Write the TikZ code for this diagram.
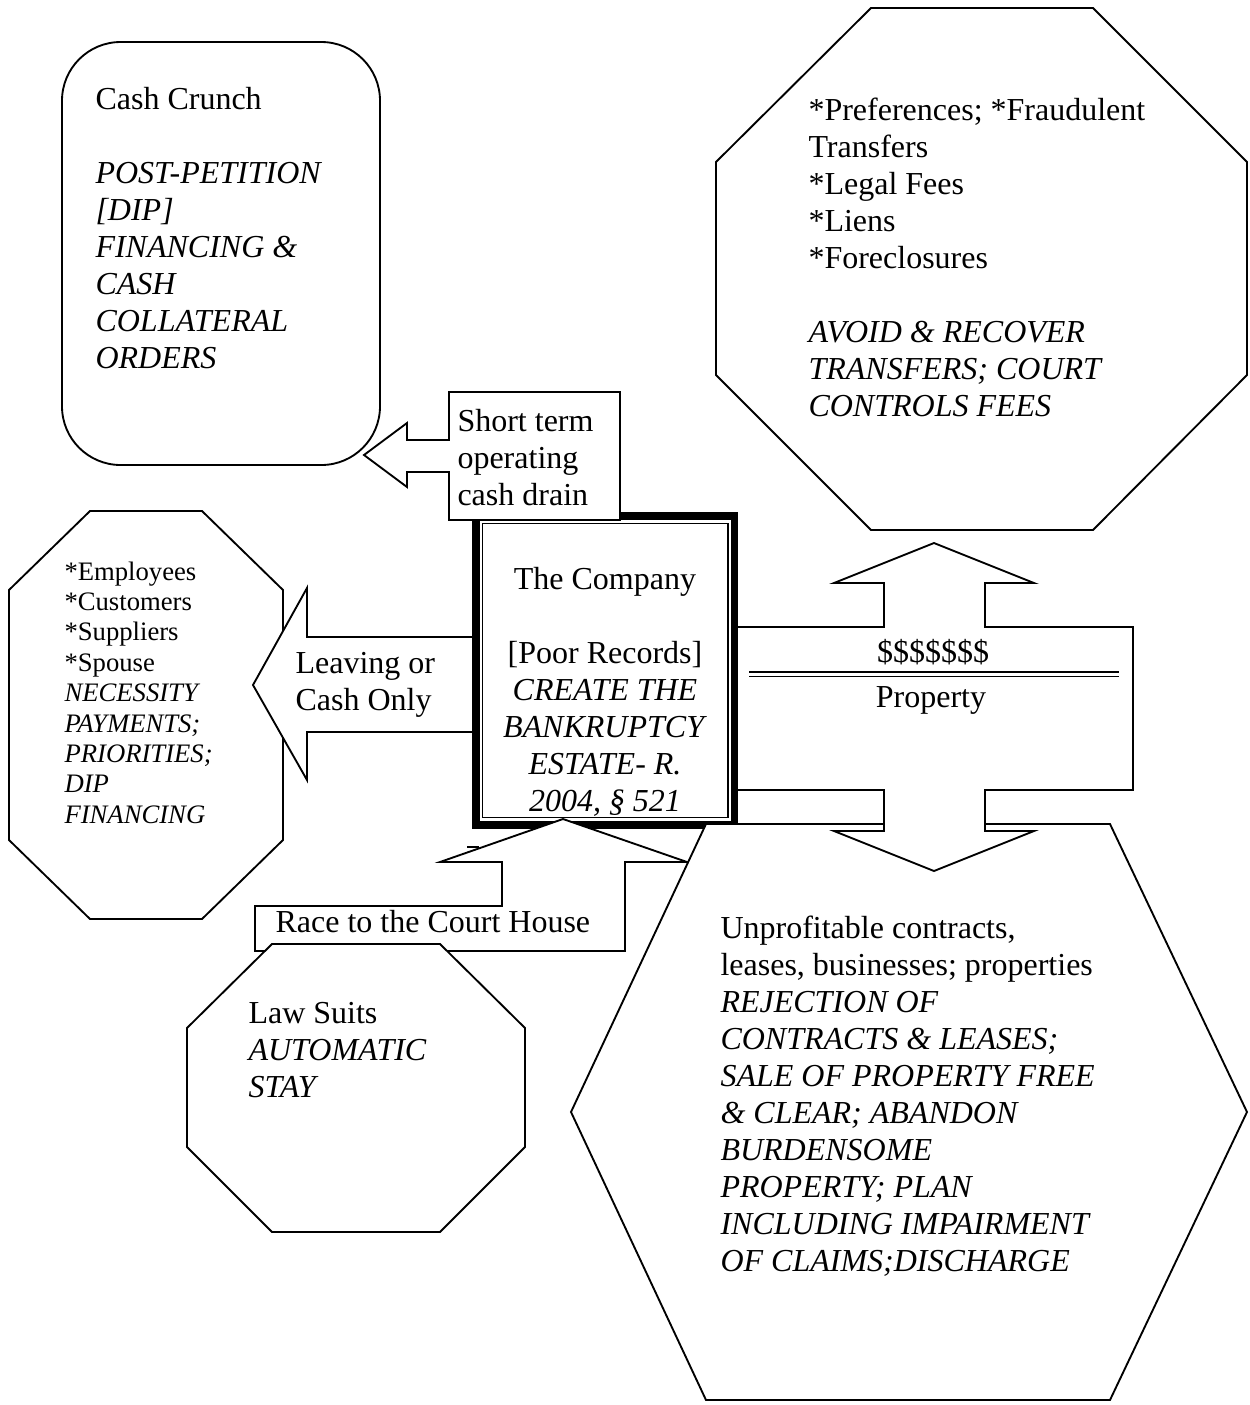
\documentclass[tikz,border=0pt]{standalone}
\usepackage{fontspec}
\setmainfont{Liberation Serif}
\newcommand\mlines[1]{\begin{tabular}[t]{@{}l@{}}#1\end{tabular}}
\newcommand\clines[1]{\begin{tabular}[t]{@{}c@{}}#1\end{tabular}}
\begin{document}
\begin{tikzpicture}[x=0.375pt,y=-0.375pt,
  outl/.style={draw=black, fill=white, line width=0.7pt, line join=miter},
  txtbig/.style={inner sep=0pt, anchor=base west, font=\fontsize{12}{13.9}\selectfont},
  txtsmall/.style={inner sep=0pt, anchor=base west, font=\fontsize{10}{11.4}\selectfont}]
\useasboundingbox (0,0) rectangle (1249,1405);

% Cash crunch rounded box
\draw[outl, rounded corners=22pt] (62,42) rectangle (380,465);

% top-right octagon
\draw[outl] (871,8) -- (1093,8) -- (1247,162) -- (1247,375) -- (1093,530)
  -- (871,530) -- (716,375) -- (716,162) -- cycle;

% left octagon
\draw[outl] (90,511) -- (202,511) -- (283,590) -- (283,840) -- (202,919)
  -- (90,919) -- (9,840) -- (9,590) -- cycle;

% leaving arrow
\draw[outl] (253,685) -- (307,588) -- (307,637) -- (474,637) -- (474,732)
  -- (307,732) -- (307,780) -- cycle;

% company box
\fill[white] (472,512) rectangle (738,829);
\draw[line width=2.8pt] (475.8,516) rectangle (734.5,825);
\draw[line width=0.55pt] (482.5,523.3) rectangle (728,817.7);

% short term callout
\draw[outl] (449,392) -- (620,392) -- (620,520) -- (449,520) -- (449,472)
  -- (407,472) -- (407,487) -- (364,455) -- (407,423) -- (407,440)
  -- (449,440) -- cycle;

% race callout
\draw[outl] (255,906) -- (502,906) -- (502,862) -- (440,862) -- (563,819)
  -- (687,862) -- (625,862) -- (625,951) -- (255,951) -- cycle;
\draw[line width=0.7pt] (467,847) -- (479,847);

% hexagon
\draw[outl] (706,824) -- (1110,824) -- (1247,1112) -- (1110,1400)
  -- (706,1400) -- (571,1112) -- cycle;

% double arrow with property
\fill[white] (738,627) -- (884,627) -- (884,583) -- (834,583) -- (934,543)
  -- (1034,583) -- (985,583) -- (985,627) -- (1133,627) -- (1133,790)
  -- (985,790) -- (985,831) -- (1034,831) -- (934,871) -- (834,831)
  -- (884,831) -- (884,790) -- (738,790) -- cycle;
\draw[line width=0.7pt, line join=miter] (738,627) -- (884,627) -- (884,583) -- (834,583) -- (934,543)
  -- (1034,583) -- (985,583) -- (985,627) -- (1133,627) -- (1133,790)
  -- (985,790) -- (985,831) -- (1034,831) -- (934,871) -- (834,831)
  -- (884,831) -- (884,790) -- (738,790);
\draw[line width=0.55pt] (749,672) -- (1119,672);
\draw[line width=0.55pt] (749,676.5) -- (1119,676.5);

% law suits octagon
\draw[outl] (272,944) -- (440,944) -- (525,1028) -- (525,1147) -- (440,1232)
  -- (272,1232) -- (187,1147) -- (187,1028) -- cycle;

% texts
\node[txtbig] (cash) at (95,109) {\mlines{Cash Crunch\\ \\ \textit{POST-PETITION}\\ \textit{[DIP]}\\ \textit{FINANCING \&}\\ \textit{CASH}\\ \textit{COLLATERAL}\\ \textit{ORDERS}}};

\node[txtbig] (short) at (457,431) {\mlines{Short term\\ operating\\ cash drain}};

\node[txtbig, anchor=base] (company) at (605,589) {\clines{The Company\\ \\ {[}Poor Records{]}\\ \textit{CREATE THE}\\ \textit{BANKRUPTCY}\\ \textit{ESTATE- R.}\\ \textit{2004, § 521}}};

\node[txtbig] (avoid) at (808,120) {\mlines{{*}Preferences; *Fraudulent\\ Transfers\\ {*}Legal Fees\\ {*}Liens\\ {*}Foreclosures\\ \\ \textit{AVOID \& RECOVER}\\ \textit{TRANSFERS; COURT}\\ \textit{CONTROLS FEES}}};

\node[txtsmall] (employees) at (64,580) {\mlines{{*}Employees\\ {*}Customers\\ {*}Suppliers\\ {*}Spouse\\ \textit{NECESSITY}\\ \textit{PAYMENTS;}\\ \textit{PRIORITIES;}\\ \textit{DIP}\\ \textit{FINANCING}}};

\node[txtbig] (leaving) at (295,673) {\mlines{Leaving or\\ Cash Only}};

\node[txtbig, anchor=base] (money) at (933,662) {\$\$\$\$\$\$\$};
\node[txtbig, anchor=base] (property) at (931,707) {Property};

\node[txtbig] (race) at (275,932) {Race to the Court House};

\node[txtbig] (law) at (248,1023) {\mlines{Law Suits\\ \textit{AUTOMATIC}\\ \textit{STAY}}};

\node[txtbig] (unprof) at (720,938) {\mlines{Unprofitable contracts,\\ leases, businesses; properties\\ \textit{REJECTION OF}\\ \textit{CONTRACTS \& LEASES;}\\ \textit{SALE OF PROPERTY FREE}\\ \textit{\& CLEAR; ABANDON}\\ \textit{BURDENSOME}\\ \textit{PROPERTY; PLAN}\\ \textit{INCLUDING IMPAIRMENT}\\ \textit{OF CLAIMS;DISCHARGE}}};
\end{tikzpicture}
\end{document}
